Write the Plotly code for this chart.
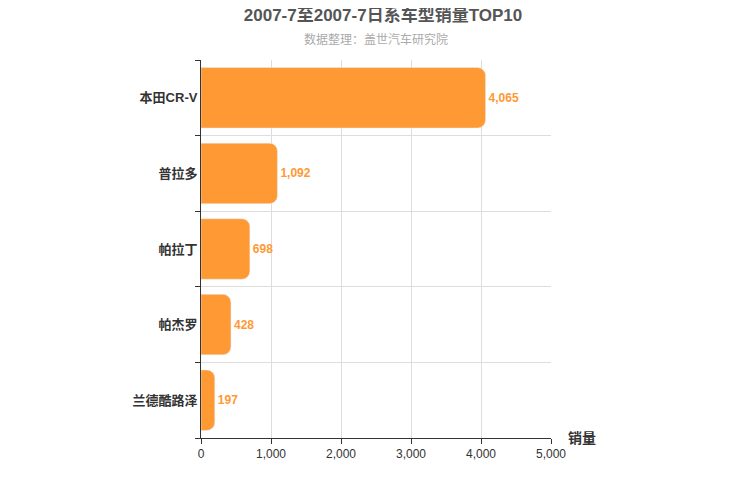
import plotly.graph_objects as go

cats = ["本田CR-V", "普拉多", "帕拉丁", "帕杰罗", "兰德酷路泽"]
vals = [4065, 1092, 698, 428, 197]
pos = [4, 3, 2, 1, 0]
color = "#FF9933"

fig = go.Figure()
fig.add_trace(go.Bar(x=vals, y=pos, orientation="h", marker_color=color, width=0.8,
                     text=[f"<b>{v:,}</b>" for v in vals], textposition="outside",
                     textfont=dict(color=color, size=12), cliponaxis=False, hoverinfo="skip"))
fig.add_trace(go.Scatter(x=[0], y=[0], yaxis="y2", mode="markers", marker=dict(opacity=0), showlegend=False, hoverinfo="skip"))
fig.update_layout(
    width=750, height=500, plot_bgcolor="white", paper_bgcolor="white",
    margin=dict(l=193, r=207, t=52, b=70), showlegend=False, barcornerradius=8,
    font=dict(family="Liberation Sans, Noto Sans CJK SC", size=12, color="#333"),
    title=dict(text="<b>2007-7至2007-7日系车型销量TOP10</b>", x=0.5, y=0.986, yanchor="middle", xanchor="center",
               font=dict(size=17, color="#555")),
    xaxis=dict(range=[0, 5000], dtick=1000, tickformat=",", showgrid=True, gridcolor="#ddd",
               showline=True, linecolor="#333", ticks="outside", ticklen=5, tickcolor="#333",
               zeroline=False, tickfont=dict(size=12, color="#333")),
    yaxis=dict(range=[-0.5, 4.5], tickvals=pos, ticktext=[f"<b>{c}</b>" for c in cats], showgrid=False, zeroline=False,
               showline=True, linecolor="#333", ticks="", tickfont=dict(size=13, color="#333")),
    yaxis2=dict(overlaying="y", range=[-0.5, 4.5], tickvals=[-0.5, 0.5, 1.5, 2.5, 3.5, 4.5],
                ticktext=[""] * 6, showgrid=True, gridcolor="#ddd", ticks="outside", ticklen=5,
                tickcolor="#333", side="left", zeroline=False, showline=False),
    annotations=[
        dict(text="数据整理：盖世汽车研究院", x=0.5, y=1.053, xref="paper", yref="paper", showarrow=False,
             yanchor="middle", font=dict(size=12, color="#aaa")),
        dict(text="<b>销量</b>", x=1.043, xref="paper", y=0, yref="paper", showarrow=False,
             xanchor="left", yanchor="middle", font=dict(size=14, color="#333")),
    ],
)
fig.write_html("out.html")
